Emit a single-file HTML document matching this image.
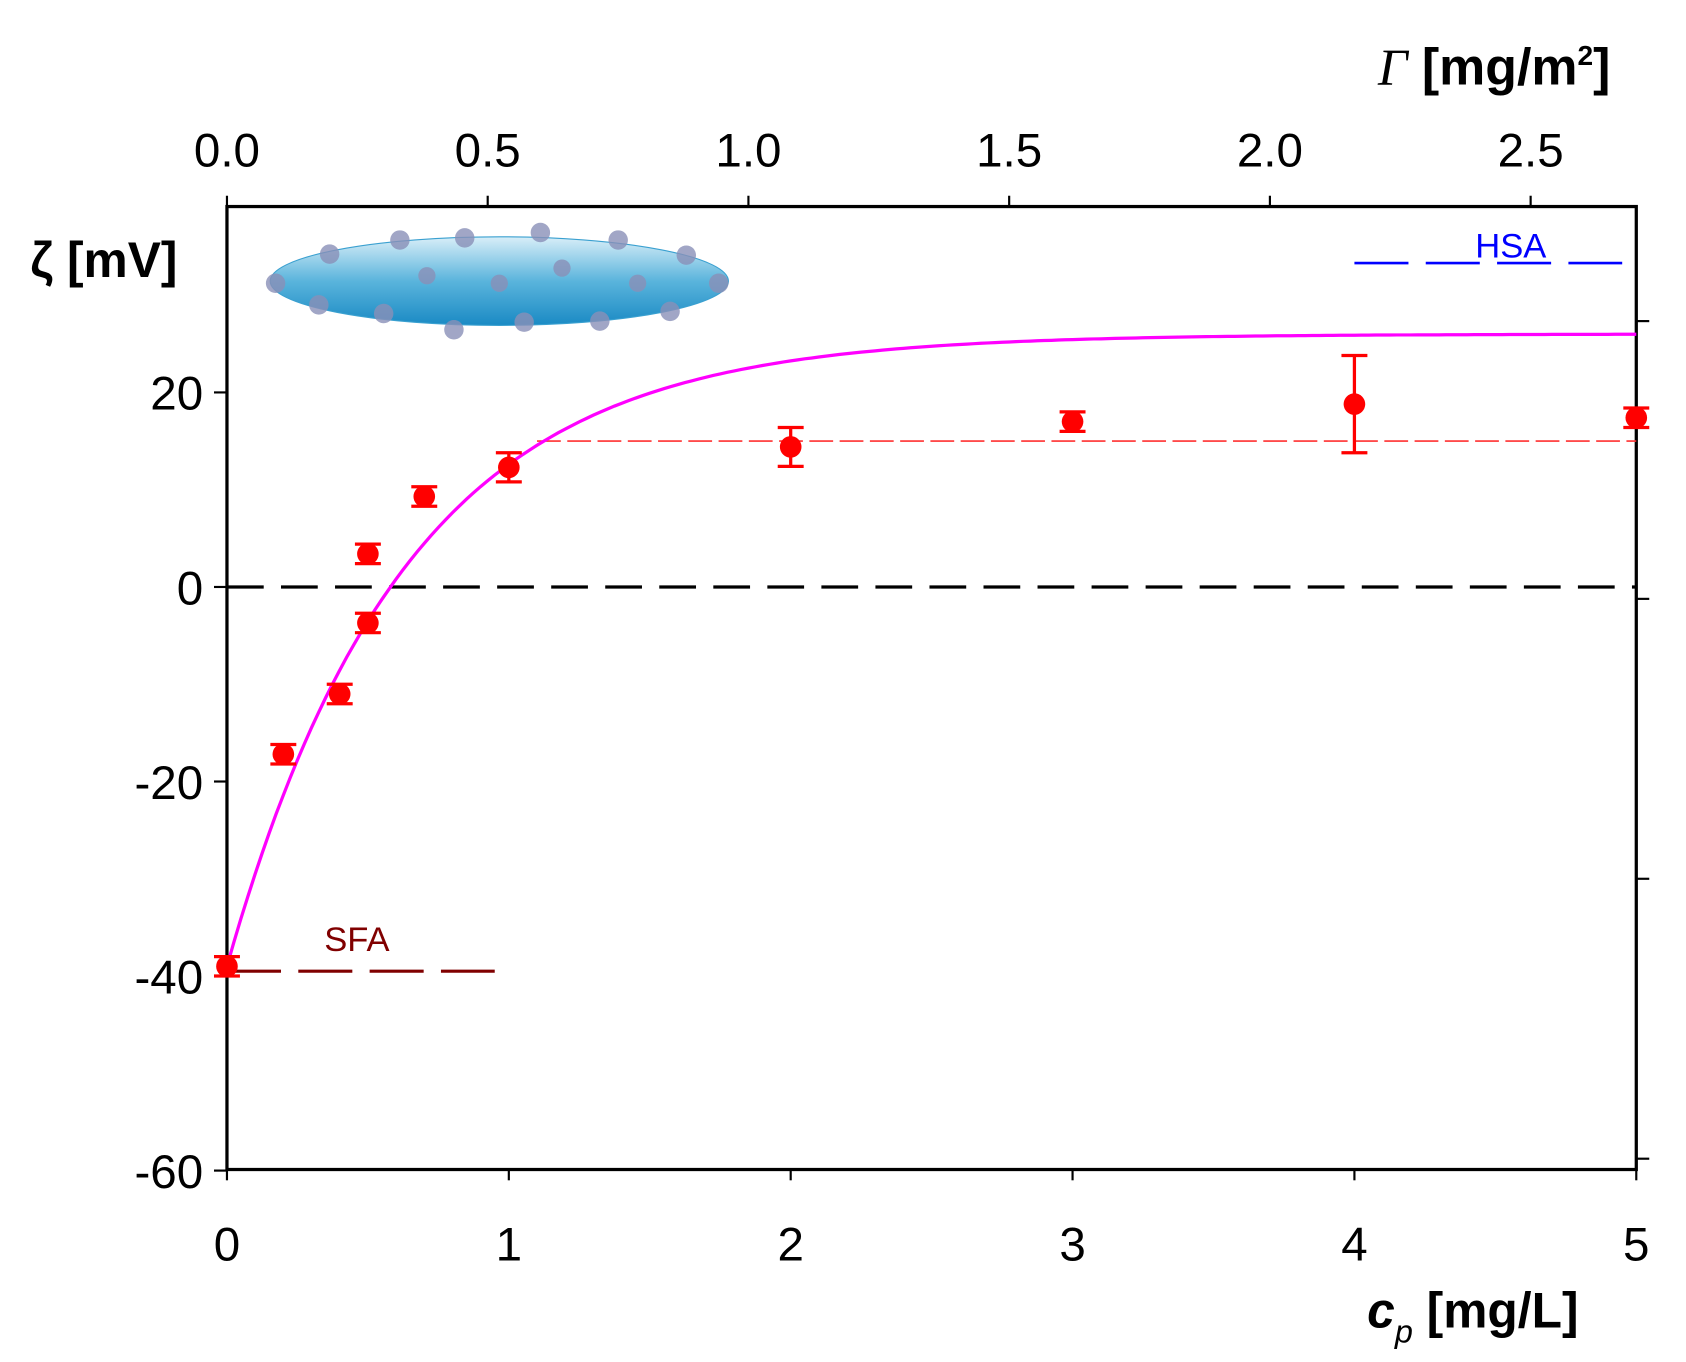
<!DOCTYPE html>
<html><head><meta charset="utf-8"><style>
html,body{margin:0;padding:0;background:#fff;}
svg{display:block;font-family:"Liberation Sans",Arial,sans-serif;}
</style></head><body>
<svg id="chart" width="1686" height="1362" viewBox="0 0 1560 1260" xmlns="http://www.w3.org/2000/svg">
<defs>
<linearGradient id="eg" x1="0" y1="0" x2="0" y2="1">
<stop offset="0" stop-color="#d8eef8"/><stop offset="0.5" stop-color="#5ab4dc"/><stop offset="1" stop-color="#1a8ac4"/>
</linearGradient>
</defs>
<rect x="0" y="0" width="1560" height="1260" fill="#fff"/>
<g>
<ellipse cx="462" cy="260" rx="212" ry="41" fill="url(#eg)" stroke="#3aa0d0" stroke-width="1"/>
<g fill="#8a90b8" opacity="0.8">
<circle cx="255" cy="262" r="9"/><circle cx="305" cy="235" r="9"/><circle cx="370" cy="222" r="9"/><circle cx="430" cy="220" r="9"/><circle cx="500" cy="215" r="9"/><circle cx="572" cy="222" r="9"/><circle cx="635" cy="236" r="9"/><circle cx="665" cy="262" r="9"/><circle cx="620" cy="288" r="9"/><circle cx="555" cy="297" r="9"/><circle cx="485" cy="298" r="9"/><circle cx="420" cy="305" r="9"/><circle cx="355" cy="290" r="9"/><circle cx="295" cy="282" r="9"/><circle cx="395" cy="255" r="8"/><circle cx="462" cy="262" r="8"/><circle cx="520" cy="248" r="8"/><circle cx="590" cy="262" r="8"/>
</g>
</g>
<g id="plot"></g>
<text x="28" y="256" font-size="46" font-weight="bold">ζ  [mV]</text>
<text x="1275" y="78" font-size="48" font-weight="bold"><tspan font-style="italic" font-family="Liberation Serif, serif" font-weight="normal">Γ</tspan> [mg/m<tspan font-size="26" dy="-18">2</tspan><tspan dy="18">]</tspan></text>
<text x="1265" y="1228" font-size="46" font-weight="bold"><tspan font-style="italic">c</tspan><tspan font-size="30" dy="14" font-style="italic" font-weight="normal">p</tspan><tspan dy="-14"> [mg/L]</tspan></text>
<text x="300" y="880" font-size="32" fill="#800000">SFA</text>
<text x="1365" y="238" font-size="32" fill="#0000ff">HSA</text>
</svg>
<script>
const xTicks=[0,1,2,3,4,5];
const yTicks=[-60,-40,-20,0,20];
const topTicks=["0.0","0.5","1.0","1.5","2.0","2.5"];
const topVals=[0,0.5,1,1.5,2,2.5];
const dataX=[0,0.2,0.4,0.5,0.5,0.7,1,2,3,4,5];
const dataY=[-39,-17.2,-11,3.4,-3.7,9.3,12.3,14.4,17,18.8,17.4];
const dataErr=[1,1,1,1,1,1,1.5,2,1,5,1];
const fitPlateau=[26];
const fitAmp=[65];
const fitK=[0.633];
const X0=210,X1=1514,Y0=191,Y1=1082;
const sx=v=>X0+(X1-X0)*v/5;
const sy=v=>543-(v/20)*180;
const sg=v=>X0+v*482.5;
const NS="http://www.w3.org/2000/svg";
const g=document.getElementById('plot');
function mk(t,a,p){const e=document.createElementNS(NS,t);for(const k in a)e.setAttribute(k,a[k]);(p||g).appendChild(e);return e;}
let e=mk('rect',{x:X0,y:Y0,width:X1-X0,height:Y1-Y0,fill:'none',stroke:'#000','stroke-width':3});


xTicks.forEach(v=>{
 let t=mk('line',{x1:sx(v),x2:sx(v),y1:Y1,y2:Y1+10,stroke:'#000','stroke-width':2});
 
 
 let l=mk('text',{x:sx(v),y:Y1+84,'font-size':44,'text-anchor':'middle'});l.textContent=v;
 
 
});
yTicks.forEach(v=>{
 let t=mk('line',{x1:X0-12,x2:X0,y1:sy(v),y2:sy(v),stroke:'#000','stroke-width':2});
 
 
 let l=mk('text',{x:X0-22,y:sy(v)+16,'font-size':44,'text-anchor':'end'});l.textContent=v;
 
 
});
[297,554,813,1072].forEach(y=>{
 let t=mk('line',{x1:X1,x2:X1+12,y1:y,y2:y,stroke:'#000','stroke-width':2});
 
 
});
topVals.forEach((v,i)=>{
 let t=mk('line',{x1:sg(v),x2:sg(v),y1:Y0-10,y2:Y0,stroke:'#000','stroke-width':2});
 
 
 let l=mk('text',{x:sg(v),y:Y0-37,'font-size':44,'text-anchor':'middle'});l.textContent=topTicks[i];
 
 
});
e=mk('line',{x1:X0,x2:X1,y1:sy(0),y2:sy(0),stroke:'#000','stroke-width':3,'stroke-dasharray':'34 16'});


e=mk('line',{x1:sx(1.1),x2:X1,y1:sy(15),y2:sy(15),stroke:'#ff3030','stroke-width':1.5,'stroke-dasharray':'22 6'});


e=mk('line',{x1:X0,x2:sx(0.95),y1:sy(-39.5),y2:sy(-39.5),stroke:'#800000','stroke-width':3,'stroke-dasharray':'50 16'});


e=mk('line',{x1:sx(4),x2:sx(4.95),y1:sy(33.3),y2:sy(33.3),stroke:'#0000ff','stroke-width':2.5,'stroke-dasharray':'50 16'});


let d='';for(let i=0;i<=200;i++){const x=5*i/200;const y=fitPlateau[0]-fitAmp[0]*Math.exp(-x/fitK[0]);d+=(i?'L':'M')+sx(x).toFixed(1)+' '+sy(y).toFixed(1);}
e=mk('path',{d:d,fill:'none',stroke:'#ff00ff','stroke-width':3});


dataX.forEach((x,i)=>{
 const cx=sx(x),cy=sy(dataY[i]),t=sy(dataY[i]+dataErr[i]),b=sy(dataY[i]-dataErr[i]);
 let eb=mk('path',{d:`M${cx} ${t}L${cx} ${b}M${cx-12} ${t}L${cx+12} ${t}M${cx-12} ${b}L${cx+12} ${b}`,stroke:'#ff0000','stroke-width':3,fill:'none'});
 
 
 let c=mk('circle',{cx:cx,cy:cy,r:10,fill:'#ff0000'});
 
 
});
</script>
</body></html>
